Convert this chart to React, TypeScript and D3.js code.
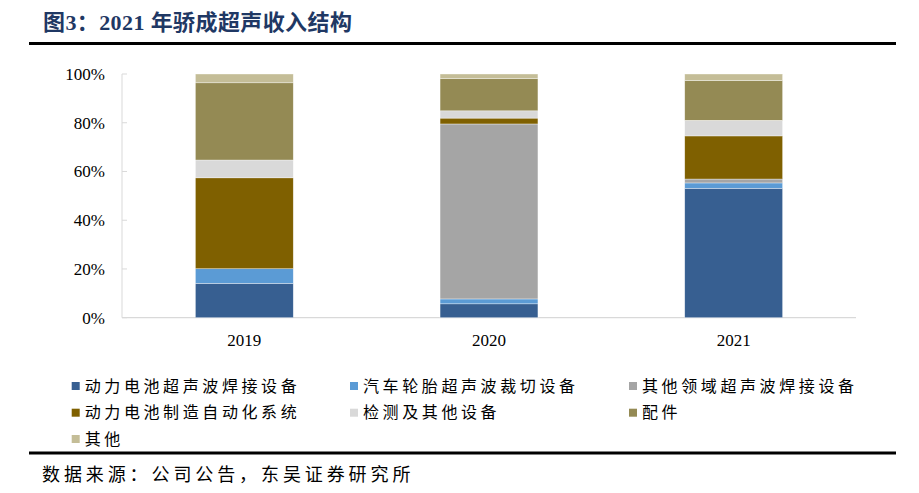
import * as d3 from 'd3';

const categories = ['2019', '2020', '2021'];
const seriesNames = [
  '动力电池超声波焊接设备',
  '汽车轮胎超声波裁切设备',
  '其他领域超声波焊接设备',
  '动力电池制造自动化系统',
  '检测及其他设备',
  '配件',
  '其他',
];
const batteryWelding = [14.1, 5.7, 53.1];
const tireCutting = [6.0, 2.0, 2.2];
const otherWelding = [0, 71.8, 1.6];
const batteryAutomation = [37.3, 2.4, 17.7];
const testingOther = [7.3, 3.0, 6.4];
const parts = [31.7, 13.2, 16.3];
const others = [3.6, 1.9, 2.7];
const yTicks = [0, 20, 40, 60, 80, 100];

const colors = ['#375f91', '#5b9bd5', '#a5a5a5', '#7f6000', '#d9d9d9', '#948a54', '#c4bd97'];

const W = 919;
const H = 493;
const plot = { left: 122, right: 856, top: 74, bottom: 317.7 };

const serif = '"Liberation Serif", "Times New Roman", serif';
const cjk = '"Noto Sans CJK SC", "Liberation Serif", serif';
const titleFont = '"Liberation Serif", "Noto Sans CJK SC", serif';

export default function App() {
  const allSeries = [batteryWelding, tireCutting, otherWelding, batteryAutomation, testingOther, parts, others];
  const rows = categories.map((c, i) => {
    const r: Record<string, number | string> = { cat: c };
    seriesNames.forEach((n, k) => (r[n] = allSeries[k][i]));
    return r;
  });
  const stacked = d3.stack<any>().keys(seriesNames)(rows);

  const x = d3.scaleBand().domain(categories).range([plot.left, plot.right]).paddingInner(0.6).paddingOuter(0.3);
  const y = d3.scaleLinear().domain([0, 100]).range([plot.bottom, plot.top]);

  const legendCols = [71.7, 350, 629];
  const legendRows = [386, 412.7, 439];

  return (
    <svg width={W} height={H} style={{ position: 'absolute', left: 0, top: 0, background: '#fff' }}>
      <text x={43} y={30} fontFamily={titleFont} fontWeight="bold" fontSize={22} letterSpacing={0.4} fill="#1f3864">
        图3：2021 年骄成超声收入结构
      </text>
      <rect x={29} y={42} width={867} height={3} fill="#000" />

      {/* axes */}
      <line x1={plot.left} x2={plot.left} y1={plot.top} y2={plot.bottom} stroke="#d9d9d9" strokeWidth={1} />
      <line x1={plot.left} x2={plot.right} y1={plot.bottom} y2={plot.bottom} stroke="#d9d9d9" strokeWidth={1.2} />
      {yTicks.map((t) => (
        <g key={t}>
          <line x1={plot.left} x2={plot.left + 5} y1={y(t)} y2={y(t)} stroke="#d9d9d9" />
          <text x={105} y={y(t)} dy="0.35em" textAnchor="end" fontFamily={serif} fontSize={17} fill="#000">
            {t}%
          </text>
        </g>
      ))}

      {/* bars */}
      {stacked.map((s, k) => (
        <g key={s.key} fill={colors[k]}>
          {s.map((d, i) =>
            d[1] - d[0] > 0 ? (
              <rect
                key={i}
                x={x(categories[i])}
                width={x.bandwidth()}
                y={y(d[1])}
                height={y(d[0]) - y(d[1])}
                stroke="#fff"
                strokeWidth={0.6}
                strokeOpacity={0.6}
              />
            ) : null,
          )}
        </g>
      ))}

      {categories.map((c) => (
        <text key={c} x={(x(c) as number) + x.bandwidth() / 2} y={340} dy="0.35em" textAnchor="middle" fontFamily={serif} fontSize={17} fill="#000">
          {c}
        </text>
      ))}

      {/* legend */}
      {seriesNames.map((n, k) => {
        const lx = legendCols[k % 3];
        const ly = legendRows[Math.floor(k / 3)];
        return (
          <g key={n}>
            <rect x={lx} y={ly - 4} width={8} height={8} fill={colors[k]} />
            <text x={lx + 13} y={ly} dy="0.36em" fontFamily={cjk} fontSize={16} letterSpacing={3.6} fill="#000">
              {n}
            </text>
          </g>
        );
      })}

      <rect x={29} y={451.5} width={867} height={3} fill="#000" />
      <text x={42} y={475} dy="0.36em" fontFamily={cjk} fontSize={18} letterSpacing={3.9} fill="#000">
        数据来源：公司公告，东吴证券研究所
      </text>
    </svg>
  );
}
